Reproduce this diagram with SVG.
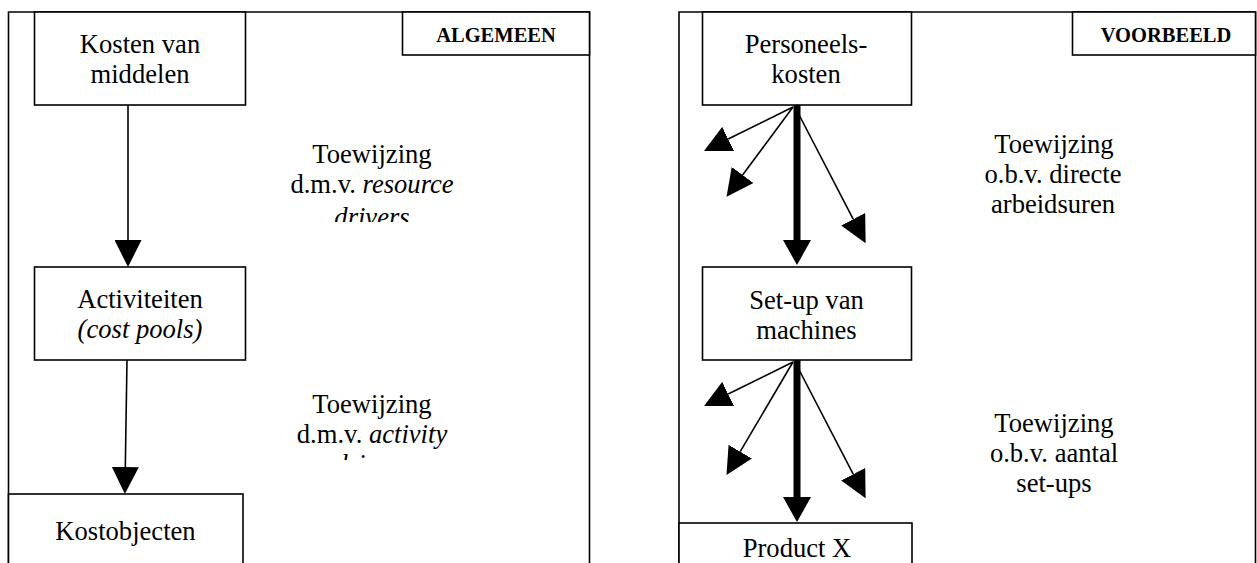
<svg xmlns="http://www.w3.org/2000/svg" width="1257" height="563" viewBox="0 0 1257 563">
  <style>
    .frame { fill: none; stroke: #000; stroke-width: 1.6; }
    .box { fill: #fff; stroke: #000; stroke-width: 1.6; }
    .lbl { font-family: 'Liberation Serif', serif; font-size: 26.6px; fill: #000; text-anchor: middle; }
    .tag { font-family: 'Liberation Serif', serif; font-size: 20.5px; font-weight: bold; fill: #000; text-anchor: middle; }
    .it { font-style: italic; }
    .thin { stroke: #000; stroke-width: 1.6; fill: none; marker-end: url(#head); }
    .thick { stroke: #000; stroke-width: 7; fill: none; marker-end: url(#headWide); }
  </style>
  <defs>
    <marker id="head" markerUnits="userSpaceOnUse" viewBox="0 0 27 27" markerWidth="27" markerHeight="27" refX="0" refY="13.5" orient="auto">
      <path d="M0,0 L27,13.5 L0,27 Z" fill="#000"/>
    </marker>
    <marker id="headWide" markerUnits="userSpaceOnUse" viewBox="0 0 25 28" markerWidth="25" markerHeight="28" refX="0" refY="14" orient="auto">
      <path d="M0,0 L25,14 L0,28 Z" fill="#000"/>
    </marker>
    <clipPath id="clipRes"><rect x="270" y="120" width="210" height="102"/></clipPath>
    <clipPath id="clipAct"><rect x="270" y="370" width="210" height="90"/></clipPath>
  </defs>

  <rect width="1257" height="563" fill="#fff"/>

  <!-- left panel: general scheme -->
  <g id="panel-algemeen">
    <path class="frame" d="M8.5,563 V12 H589.5 V563"/>
  </g>
  <g id="tag-algemeen">
    <rect class="box" x="402.5" y="12" width="187" height="43"/>
    <text class="tag" x="496" y="42">ALGEMEEN</text>
  </g>
  <g id="node-kosten">
    <rect class="box" x="34.5" y="12" width="211" height="93"/>
    <text class="lbl" x="140" y="53">Kosten van</text>
    <text class="lbl" x="140" y="83">middelen</text>
  </g>
  <g id="node-activiteiten">
    <rect class="box" x="34.5" y="267" width="211" height="93"/>
    <text class="lbl" x="140" y="308">Activiteiten</text>
    <text class="lbl it" x="140" y="338">(cost pools)</text>
  </g>
  <g id="node-kostobjecten">
    <rect class="box" x="8.5" y="494" width="234.5" height="80"/>
    <text class="lbl" x="125.5" y="540">Kostobjecten</text>
  </g>
  <g id="note-resource" clip-path="url(#clipRes)">
    <text class="lbl" x="372" y="163">Toewijzing</text>
    <text class="lbl" x="372" y="193">d.m.v. <tspan class="it">resource</tspan></text>
    <text class="lbl it" x="372" y="226">drivers</text>
  </g>
  <g id="note-activity" clip-path="url(#clipAct)">
    <text class="lbl" x="372" y="413">Toewijzing</text>
    <text class="lbl" x="372" y="443">d.m.v. <tspan class="it">activity</tspan></text>
    <text class="lbl it" x="372" y="473">drivers</text>
  </g>

  <!-- right panel: worked example -->
  <g id="panel-voorbeeld">
    <path class="frame" d="M679,563 V12 H1255.5 V563"/>
  </g>
  <g id="tag-voorbeeld">
    <rect class="box" x="1072.5" y="12" width="183" height="43"/>
    <text class="tag" x="1166" y="42">VOORBEELD</text>
  </g>
  <g id="node-personeel">
    <rect class="box" x="702.5" y="12" width="209" height="93"/>
    <text class="lbl" x="806" y="53">Personeels-</text>
    <text class="lbl" x="806" y="83">kosten</text>
  </g>
  <g id="node-setup">
    <rect class="box" x="702.5" y="267" width="209" height="93"/>
    <text class="lbl" x="806.5" y="309">Set-up van</text>
    <text class="lbl" x="806.5" y="339">machines</text>
  </g>
  <g id="node-product">
    <rect class="box" x="679" y="523" width="233" height="60"/>
    <text class="lbl" x="797" y="557">Product X</text>
  </g>
  <g id="note-arbeid">
    <text class="lbl" x="1054" y="153">Toewijzing</text>
    <text class="lbl" x="1053" y="183">o.b.v. directe</text>
    <text class="lbl" x="1053" y="213">arbeidsuren</text>
  </g>
  <g id="note-setups">
    <text class="lbl" x="1054" y="432">Toewijzing</text>
    <text class="lbl" x="1054" y="462">o.b.v. aantal</text>
    <text class="lbl" x="1054" y="492">set-ups</text>
  </g>

  <!-- connectors -->
  <g id="connectors">
    <line class="thin" x1="128" y1="105" x2="128" y2="240"/>
    <line class="thin" x1="127" y1="360" x2="125.3" y2="467"/>

    <line class="thick" x1="797" y1="105" x2="797" y2="240"/>
    <line class="thin" x1="793" y1="107" x2="728.2" y2="139"/>
    <line class="thin" x1="793" y1="107" x2="742.6" y2="175"/>
    <line class="thin" x1="795" y1="107" x2="853.2" y2="219.2"/>

    <line class="thick" x1="797" y1="360" x2="797" y2="497"/>
    <line class="thin" x1="793" y1="362" x2="728.2" y2="394"/>
    <line class="thin" x1="793" y1="362" x2="740.2" y2="451.7"/>
    <line class="thin" x1="795" y1="362" x2="853.2" y2="474.2"/>
  </g>
</svg>
